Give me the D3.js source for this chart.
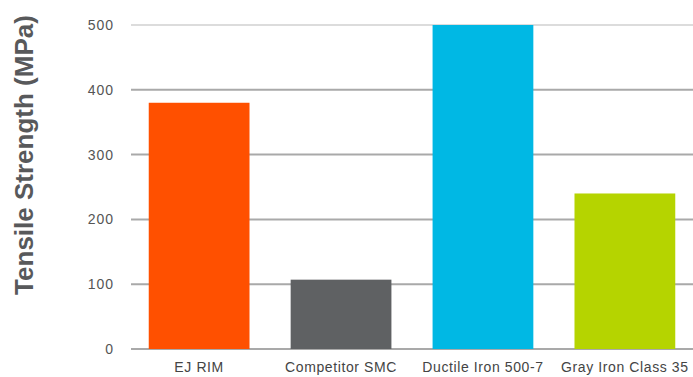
<!DOCTYPE html>
<html>
<head>
<meta charset="utf-8">
<script src="https://cdn.jsdelivr.net/npm/d3@7"></script>
<style>
  body { margin: 0; background: #fff; }
  text { font-family: "Liberation Sans", Arial, sans-serif; }
</style>
</head>
<body>
<div id="canvas"></div>
<script>
"use strict"

// DATA
let materials = ["EJ RIM", "Competitor SMC", "Ductile Iron 500-7", "Gray Iron Class 35"];
let strength = [380, 107, 500, 240];
let barColors = ["#ff5000", "#5f6163", "#00b8e4", "#b5d400"];
let yTicks = [0, 100, 200, 300, 400, 500];

/* drawing config */
let svgWidth = 693;
let svgHeight = 377;

let marginLeft = 131;
let marginRight = 0;
let marginTop = 25;
let marginBottom = 28;

let svg = d3.select("#canvas")
  .append("svg")
  .attr("width", svgWidth)
  .attr("height", svgHeight);

let xScale = d3.scaleBand()
  .domain(materials)
  .range([marginLeft, svgWidth - marginRight])
  .paddingInner(0.29)
  .paddingOuter(0.125);

let yScale = d3.scaleLinear()
  .domain([0, 500])
  .range([svgHeight - marginBottom, marginTop]);

// grid lines
svg.selectAll("line.grid")
  .data(yTicks)
  .join("line")
  .attr("class", "grid")
  .attr("x1", marginLeft)
  .attr("x2", svgWidth - marginRight)
  .attr("y1", function (d) { return yScale(d); })
  .attr("y2", function (d) { return yScale(d); })
  .attr("stroke", function (d) { return d == 500 ? "#dcdcdc" : "#a9a9a9"; })
  .attr("stroke-width", 2);

// tick labels
svg.selectAll("text.ytick")
  .data(yTicks)
  .join("text")
  .attr("class", "ytick")
  .attr("x", marginLeft - 17)
  .attr("y", function (d) { return yScale(d); })
  .attr("dy", "0.35em")
  .attr("text-anchor", "end")
  .attr("fill", "#555")
  .style("font-size", "14px")
  .style("letter-spacing", "1px")
  .text(function (d) { return d; });

// bars
let data = materials.map(function (m, i) {
  return { name: m, value: strength[i], color: barColors[i] };
});

svg.selectAll("rect.bar")
  .data(data)
  .join("rect")
  .attr("class", "bar")
  .attr("x", function (d) { return xScale(d.name); })
  .attr("width", xScale.bandwidth())
  .attr("y", function (d) { return yScale(d.value); })
  .attr("height", function (d) { return yScale(0) - yScale(d.value); })
  .attr("fill", function (d) { return d.color; });

// category labels
svg.selectAll("text.xlab")
  .data(materials)
  .join("text")
  .attr("class", "xlab")
  .attr("x", function (d) { return xScale(d) + xScale.bandwidth() / 2; })
  .attr("y", svgHeight - 5)
  .attr("text-anchor", "middle")
  .attr("fill", "#444")
  .style("font-size", "14px")
  .style("letter-spacing", "0.6px")
  .text(function (d) { return d; });

// axis title
svg.append("text")
  .attr("transform", "translate(33," + 155 + ") rotate(-90)")
  .attr("text-anchor", "middle")
  .attr("fill", "#58595b")
  .style("font-size", "26px")
  .style("font-weight", "bold")
  .text("Tensile Strength (MPa)");
</script>
</body>
</html>
